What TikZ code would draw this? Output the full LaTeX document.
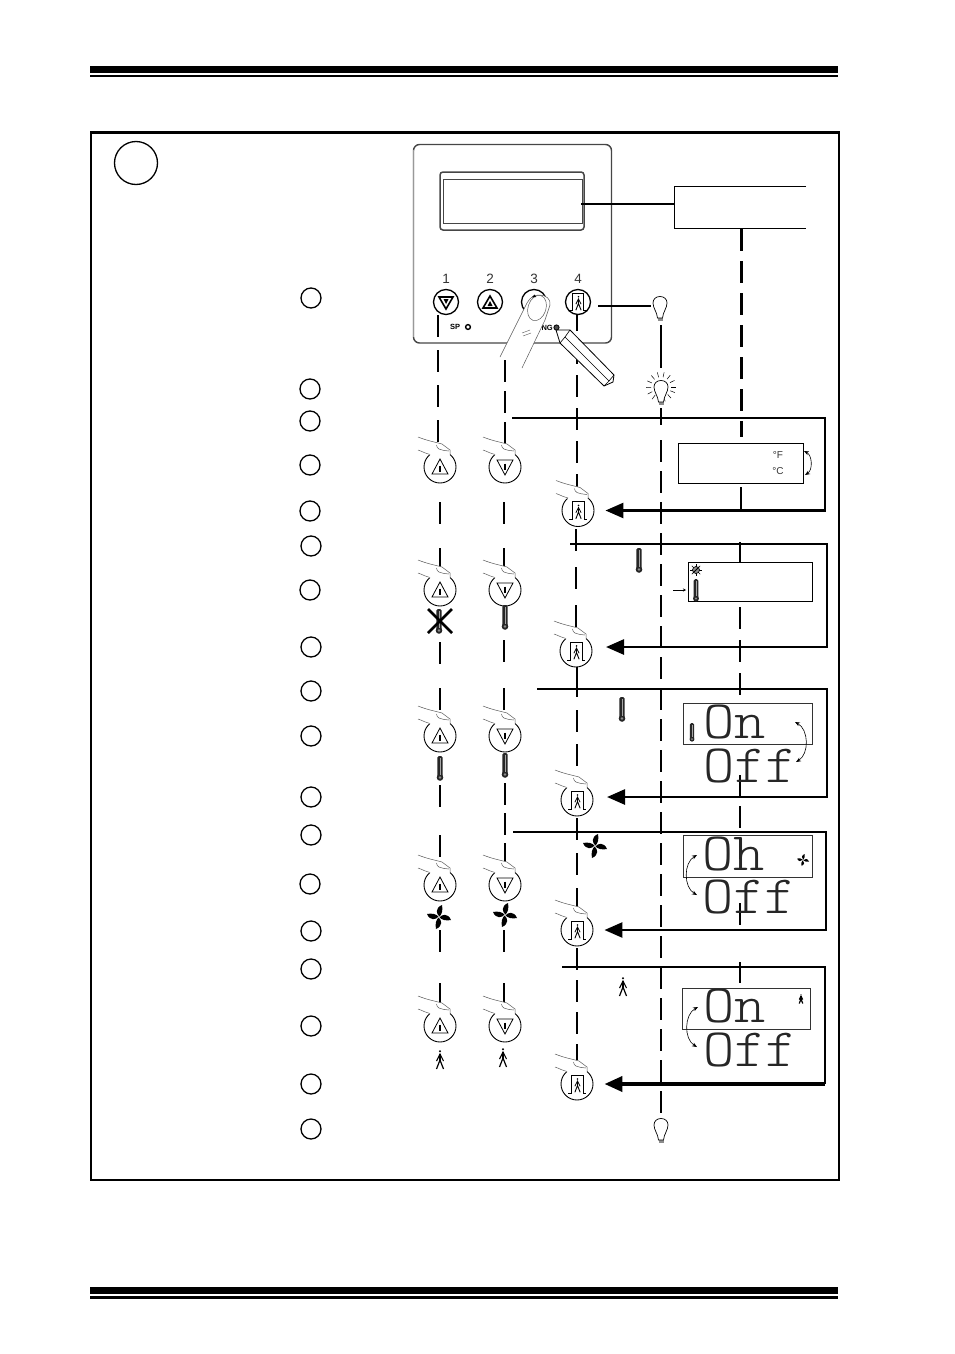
\documentclass[tikz,border=0pt]{standalone}
\usepackage{fontspec}
\setsansfont{Liberation Sans}
\newfontfamily\lcdfont[FakeStretch=1.1]{Latin Modern Mono Light}
\usetikzlibrary{arrows.meta,shapes.geometric}
\definecolor{panelgray}{RGB}{70,70,70}
\definecolor{fingergray}{RGB}{90,90,90}
\tikzset{
    stepmark/.style={circle,draw,line width=1.3pt,minimum size=20pt,inner sep=0pt},
    panelkey/.style={circle,draw,fill=white,line width=1.3pt,minimum size=25pt,inner sep=0pt},
    presskey/.style={circle,draw,fill=white,line width=0.9pt,minimum size=32pt,inner sep=0pt},
    dashline/.style={line width=2pt,dash pattern=on 22pt off #1},
    linkline/.style={line width=2pt},
    runline/.style={line width=2.6pt},
    flowline/.style={line width=2.6pt,-{Triangle[length=18pt,width=15pt]},shorten >=11pt},
    lcdbox/.style={draw,line width=0.8pt,fill=none},
    lcdtext/.style={font=\lcdfont\fontsize{54}{54}\selectfont,text=black!85,anchor=base west,inner sep=0pt},
    keynum/.style={font=\sffamily\fontsize{13.5}{14}\selectfont,text=black!80},
    marktext/.style={font=\sffamily\bfseries\fontsize{7.5}{8}\selectfont},
    unittext/.style={font=\sffamily\fontsize{10}{10}\selectfont,text=black!80},
    swaparrow/.style={line width=0.6pt,{Stealth[length=5pt,width=4pt]}-{Stealth[length=5pt,width=4pt]}},
    upsym/.pic={
        \draw[line width=0.8pt] (0,-8) -- (-8,7) -- (8,7) -- cycle;
        \draw[line width=1.6pt] (0,-1.5) -- (0,5);
    },
    downsym/.pic={
        \draw[line width=0.8pt] (-8,-7) -- (8,-7) -- (0,8) -- cycle;
        \draw[line width=1.6pt] (0,-3.5) -- (0,3);
    },
    panelup/.pic={
        \draw[line width=1.6pt] (0,-6) -- (-7,6) -- (7,6) -- cycle;
        \fill (0,-1) -- (-2.5,4) -- (2.5,4) -- cycle;
    },
    paneldown/.pic={
        \draw[line width=1.6pt] (-7,-5) -- (7,-5) -- (0,7) -- cycle;
        \fill (-2.5,-3) -- (2.5,-3) -- (0,2) -- cycle;
    },
    person/.pic={
        \fill (0,-8.8) circle (1.2);
        \draw[line width=1.2pt] (-3.5,9) -- (0,0) -- (3.5,9);
        \draw[line width=1.1pt] (-3.5,1) -- (0,-6) -- (3.5,1);
        \draw[line width=2.2pt] (0,-6) -- (0,1);
    },
    doorperson/.pic={
        \fill (0,-8.8) circle (1.2);
        \draw[line width=0.9pt] (-3.5,9) -- (0,0) -- (3.5,9);
        \draw[line width=0.8pt] (-3.5,1) -- (0,-6) -- (3.5,1);
        \draw[line width=1.5pt] (0,-6) -- (0,1);
    },
    doorsym/.pic={
        \draw[line width=0.8pt] (-9,9) -- (-5.5,9) -- (-5.5,-9) -- (6,-9) -- (6,9) -- (9,9);
        \pic[scale=0.75] at (0.5,1.5) {doorperson};
    },
    fingertop/.pic={
        \fill[white] (-22,-30) -- (2,-23) -- (10,-17) -- (10,-12) -- (-8,-11) -- (-22,-17) -- cycle;
        \draw[line width=0.5pt,fingergray] (-22,-30) .. controls (-12,-26) and (-5,-25) .. (2,-23) -- (10,-17) -- (10,-12);
        \draw[line width=0.5pt,fingergray] (-22,-17) .. controls (-16,-15) and (-14,-13) .. (-10,-12.5);
        \draw[line width=0.5pt,fingergray] (-3.5,-22) .. controls (-3,-18) and (-1,-17) .. (9,-16);
    },
    thermo/.pic={
        \fill[black!85,rounded corners=1.5pt] (-2.7,-12) rectangle (2.7,10);
        \fill[black!85] (0,9.5) circle (3.3);
        \draw[black!35,line width=0.7pt] (0,-10) -- (0,7);
        \fill[black!45] (0,9.5) circle (1.3);
    },
    fan/.pic={
        \foreach \ang in {0,90,180,270}
            \fill[rotate=\ang] (0.5,-0.5) .. controls (-3,-3) and (-4,-9) .. (3,-12) .. controls (4,-7) and (3,-3) .. (0.5,-0.5);
    },
    lamp/.pic={
        \fill[black!45] (-2.5,13) rectangle (2.5,18);
        \draw[line width=0.7pt,fill=white] (-2.5,15) .. controls (-3,9) and (-7,5) .. (-7,0) .. controls (-7,-4) and (-4,-6.5) .. (0,-6.5) .. controls (4,-6.5) and (7,-4) .. (7,0) .. controls (7,5) and (3,9) .. (2.5,15) -- cycle;
    },
    glowrays/.pic={
        \foreach \ang in {0,26,...,340}
            \draw[line width=0.5pt,rotate=\ang] (10,0) -- (15,0);
    },
    sunmark/.pic={
        \foreach \ang in {0,45,...,315}
            \draw[line width=0.6pt,rotate=\ang] (3,0) -- (6,0);
        \draw[line width=0.7pt,fill=black!45] (0,0) circle (3.5);
        \draw[line width=1pt] (-3,3) -- (3,-3);
    }
}
\begin{document}
\begin{tikzpicture}[x=1pt,y=-1pt]
    \useasboundingbox (0,0) rectangle (954,1354);

    % Page rules and frame
    \fill (90,66) rectangle (838,73);
    \fill (90,75) rectangle (838,77);
    \fill (90,1287) rectangle (838,1294);
    \fill (90,1296) rectangle (838,1299);
    \draw[line width=2.5pt] (91,132.5) rectangle (839,1180);

    % Step marks
    \node[stepmark,minimum size=43pt] (bigmark) at (136,163) {};
    \node[stepmark] (markA) at (311,298) {};
    \node[stepmark] (markB) at (310,389) {};
    \node[stepmark] (markC) at (310,421) {};
    \node[stepmark] (markD) at (310,465) {};
    \node[stepmark] (markE) at (310,511) {};
    \node[stepmark] (markF) at (311,546) {};
    \node[stepmark] (markG) at (310,590) {};
    \node[stepmark] (markH) at (311,647) {};
    \node[stepmark] (markI) at (311,691) {};
    \node[stepmark] (markJ) at (311,736) {};
    \node[stepmark] (markK) at (311,797) {};
    \node[stepmark] (markL) at (311,835) {};
    \node[stepmark] (markM) at (310,884) {};
    \node[stepmark] (markN) at (311,931) {};
    \node[stepmark] (markO) at (311,969) {};
    \node[stepmark] (markP) at (311,1026) {};
    \node[stepmark] (markQ) at (311,1084) {};
    \node[stepmark] (markR) at (311,1129) {};

    % Control panel
    \draw[panelgray,line width=1.4pt,rounded corners=6pt] (413.5,144.5) rectangle (611.5,343);
    \draw[black!40,line width=1.4pt] (413.5,150) -- (413.5,337);
    \draw[panelgray,line width=1.5pt,rounded corners=3pt] (440,172) rectangle (584,230);
    \draw[panelgray,line width=1pt] (443,179) rectangle (582,223);
    \node[keynum] (numA) at (446,279) {1};
    \node[keynum] (numB) at (490,279) {2};
    \node[keynum] (numC) at (534,279) {3};
    \node[keynum] (numD) at (578,279) {4};
    \node[marktext] (sptext) at (455,327) {SP};
    \draw[line width=1.4pt] (468,327) circle (2.4);
    \node[marktext,anchor=east,inner sep=0pt] (ngtext) at (553,327.5) {NG};

    % Display box
    \draw[line width=0.8pt] (806,186) -- (674,186) -- (674,228) -- (806,228);
    \coordinate (lcdA) at (581,204);
    \coordinate (lcdB) at (674,204);
    \draw[linkline] (lcdA) -- (lcdB);

    % First key column
    \coordinate (keyAa) at (438,315);
    \coordinate (keyAb) at (438,442);
    \draw[dashline=13pt] (keyAa) -- (keyAb);
    \coordinate (keyAc) at (440,502);
    \coordinate (keyAd) at (440,570);
    \draw[dashline=24pt] (keyAc) -- (keyAd);
    \coordinate (keyAe) at (440,642);
    \coordinate (keyAf) at (440,710);
    \draw[dashline=24pt] (keyAe) -- (keyAf);
    \coordinate (keyAg) at (440,785);
    \coordinate (keyAh) at (440,857);
    \draw[dashline=28pt] (keyAg) -- (keyAh);
    \coordinate (keyAi) at (440,930);
    \coordinate (keyAj) at (440,1005);
    \draw[dashline=31pt] (keyAi) -- (keyAj);

    % Second key column
    \coordinate (keyBa) at (505,360);
    \coordinate (keyBb) at (505,445);
    \draw[dashline=9pt] (keyBa) -- (keyBb);
    \coordinate (keyBc) at (504,502);
    \coordinate (keyBd) at (504,570);
    \draw[dashline=24pt] (keyBc) -- (keyBd);
    \coordinate (keyBe) at (504,640);
    \coordinate (keyBf) at (504,710);
    \draw[dashline=26pt] (keyBe) -- (keyBf);
    \coordinate (keyBg) at (505,783);
    \coordinate (keyBh) at (505,865);
    \draw[dashline=8pt,line width=2.6pt] (keyBg) -- (keyBh);
    \coordinate (keyBi) at (504,930);
    \coordinate (keyBj) at (504,1005);
    \draw[dashline=31pt] (keyBi) -- (keyBj);

    % Third key column
    \coordinate (keyCa) at (577,309);
    \coordinate (keyCb) at (577,490);
    \draw[dashline=11pt] (keyCa) -- (keyCb);
    \coordinate (keyCc) at (576,529);
    \coordinate (keyCd) at (576,630);
    \draw[dashline=16pt] (keyCc) -- (keyCd);
    \coordinate (keyCe) at (577,665);
    \coordinate (keyCf) at (577,697);
    \draw[linkline] (keyCe) -- (keyCf);
    \coordinate (keyCg) at (577,710);
    \coordinate (keyCh) at (577,770);
    \draw[dashline=12pt] (keyCg) -- (keyCh);
    \coordinate (keyCi) at (577,818);
    \coordinate (keyCj) at (577,910);
    \draw[dashline=13pt] (keyCi) -- (keyCj);
    \coordinate (keyCk) at (577,948);
    \coordinate (keyCl) at (577,1060);
    \draw[dashline=10pt] (keyCk) -- (keyCl);

    % Lamp column
    \coordinate (lampA) at (661,325);
    \coordinate (lampB) at (661,368);
    \draw[linkline] (lampA) -- (lampB);
    \coordinate (lampC) at (661,408);
    \coordinate (lampD) at (661,425);
    \draw[linkline] (lampC) -- (lampD);
    \coordinate (lampE) at (661,440);
    \coordinate (lampF) at (661,1114);
    \draw[dashline=9pt] (lampE) -- (lampF);

    % Display column
    \coordinate (lcdCa) at (741,229);
    \coordinate (lcdCb) at (741,437);
    \draw[dashline=10pt,line width=3pt] (lcdCa) -- (lcdCb);
    \coordinate (lcdCc) at (741,487);
    \coordinate (lcdCd) at (741,510);
    \draw[linkline] (lcdCc) -- (lcdCd);
    \coordinate (lcdCe) at (740,542);
    \coordinate (lcdCf) at (740,562);
    \draw[linkline] (lcdCe) -- (lcdCf);
    \coordinate (lcdCg) at (740,607);
    \coordinate (lcdCh) at (740,697);
    \draw[dashline=11pt] (lcdCg) -- (lcdCh);
    \coordinate (lcdCi) at (740,775);
    \coordinate (lcdCj) at (740,860);
    \draw[dashline=9pt] (lcdCi) -- (lcdCj);
    \coordinate (lcdCk) at (740,903);
    \coordinate (lcdCl) at (740,925);
    \draw[linkline] (lcdCk) -- (lcdCl);
    \coordinate (lcdCm) at (740,962);
    \coordinate (lcdCn) at (740,983);
    \draw[linkline] (lcdCm) -- (lcdCn);

    % Panel keys
    \node[panelkey] (panelA) at (446,302) {};
    \pic at (panelA) {paneldown};
    \node[panelkey] (panelB) at (490,302) {};
    \pic at (panelB) {panelup};
    \node[panelkey] (panelC) at (534,302) {};
    \node[panelkey] (panelD) at (578,302) {};
    \pic[scale=0.95] at (panelD) {doorsym};

    % Finger and pencil on the panel
    \draw[line width=0.5pt,fingergray,fill=white] (500,357) -- (527,303) .. controls (530,297) and (535,295) .. (539,295) .. controls (546,295) and (551,299) .. (550,305) -- (545,320) -- (522,368);
    \draw[line width=0.5pt,fingergray] (537,308) ellipse [x radius=9,y radius=13,rotate=-18];
    \fill (531.5,297.5) -- (534.5,294.5) -- (536,297) -- cycle;
    \draw[line width=0.4pt,fingergray] (522,333) -- (530,330);
    \draw[line width=0.4pt,fingergray] (523,336) -- (531,333);
    \draw[line width=0.8pt,fill=white] (556,330) -- (570,330) -- (614,375) -- (613,382) -- (604,386) -- (560,343) -- cycle;
    \draw[line width=0.6pt] (570,330) -- (565,337) -- (560,343);
    \draw[line width=0.6pt] (565,337) -- (609,381) -- (614,375);
    \draw[line width=0.6pt] (609,381) -- (604,386);
    \draw[line width=0.8pt,fill=black!70] (556.5,327.5) circle (2.6);
    \coordinate (keyCm) at (577,375);
    \coordinate (keyCn) at (577,393);
    \draw[linkline] (keyCm) -- (keyCn);
    \coordinate (keyBk) at (505,378);
    \draw[linkline] (keyBa) -- (keyBk);

    % Lamps
    \pic at (660,303) {lamp};
    \coordinate (panelDe) at (598,306);
    \coordinate (panelDf) at (651,306);
    \draw[linkline] (panelDe) -- (panelDf);
    \pic at (661,387) {glowrays};
    \pic at (661,387) {lamp};
    \pic at (661,1125) {lamp};

    % Temperature unit
    \node[presskey] (pressAa) at (440,467) {};
    \pic at (pressAa) {upsym};
    \pic at (pressAa) {fingertop};
    \node[presskey] (pressAb) at (505,467) {};
    \pic at (pressAb) {downsym};
    \pic at (pressAb) {fingertop};
    \node[presskey] (okA) at (578,510.5) {};
    \pic at (okA) {doorsym};
    \pic at (okA) {fingertop};
    \coordinate (runA) at (512,418);
    \coordinate (cornerA) at (825,510.5);
    \draw[flowline] (runA) -| (cornerA) -- (okA);
    \node[lcdbox,fill=white,minimum width=125pt,minimum height=40pt,inner sep=0pt] (unitbox) at (740.5,463) {};
    \node[unittext] (unitF) at (778,455) {°F};
    \node[unittext] (unitC) at (778,471) {°C};
    \coordinate (swapAa) at (804,451);
    \coordinate (swapAb) at (805,475);
    \draw[swaparrow] (swapAa) to[bend left=60] (swapAb);

    % Temperature sensor
    \node[presskey] (pressBa) at (440,590) {};
    \pic at (pressBa) {upsym};
    \pic at (pressBa) {fingertop};
    \node[presskey] (pressBb) at (505,590) {};
    \pic at (pressBb) {downsym};
    \pic at (pressBb) {fingertop};
    \pic at (439,621) {thermo};
    \draw[line width=2.5pt] (428,609) -- (452,633);
    \draw[line width=2.5pt] (452,609) -- (428,633);
    \pic at (505,617) {thermo};
    \node[presskey] (okB) at (576,651) {};
    \pic at (okB) {doorsym};
    \pic at (okB) {fingertop};
    \coordinate (runB) at (570,544);
    \coordinate (cornerB) at (827,647);
    \coordinate (arrowB) at (576,647);
    \draw[flowline,shorten >=30pt] (runB) -| (cornerB) -- (arrowB);
    \pic at (639,560) {thermo};
    \node[lcdbox,fill=white,minimum width=124pt,minimum height=39pt,inner sep=0pt] (sensorbox) at (750,581.5) {};
    \pic at (696,570) {sunmark};
    \pic[scale=0.9] at (696,590) {thermo};
    \coordinate (pointA) at (673,590);
    \coordinate (pointB) at (686,590);
    \draw[line width=0.6pt,-{Stealth[length=3pt,width=3pt]}] (pointA) -- (pointB);

    % Heat output
    \node[presskey] (pressCa) at (440,736) {};
    \pic at (pressCa) {upsym};
    \pic at (pressCa) {fingertop};
    \node[presskey] (pressCb) at (505,736) {};
    \pic at (pressCb) {downsym};
    \pic at (pressCb) {fingertop};
    \pic at (440,768) {thermo};
    \pic at (505,765) {thermo};
    \node[presskey] (okC) at (577,800) {};
    \pic at (okC) {doorsym};
    \pic at (okC) {fingertop};
    \coordinate (runC) at (537,689);
    \coordinate (cornerC) at (827,797);
    \coordinate (arrowC) at (577,797);
    \draw[flowline,shorten >=30pt] (runC) -| (cornerC) -- (arrowC);
    \pic at (622,709) {thermo};
    \draw[line width=0.8pt,draw=black!80] (683.5,703) rectangle (812,744);
    \pic[scale=0.75] at (692,732) {thermo};
    \node[lcdtext] (onA) at (703,738) {On};
    \node[lcdtext] (offA) at (703,782) {Off};
    \coordinate (swapBa) at (795,722);
    \coordinate (swapBb) at (796,762);
    \draw[swaparrow] (swapBa) to[bend left=60] (swapBb);

    % Fan output
    \node[presskey] (pressDa) at (440,885) {};
    \pic at (pressDa) {upsym};
    \pic at (pressDa) {fingertop};
    \node[presskey] (pressDb) at (505,885) {};
    \pic at (pressDb) {downsym};
    \pic at (pressDb) {fingertop};
    \pic at (439,917) {fan};
    \pic at (505,915) {fan};
    \node[presskey] (okD) at (577,930) {};
    \pic at (okD) {doorsym};
    \pic at (okD) {fingertop};
    \coordinate (runD) at (513,832);
    \coordinate (cornerD) at (826,930);
    \draw[flowline] (runD) -| (cornerD) -- (okD);
    \pic at (595,846) {fan};
    \draw[line width=0.8pt,draw=black!80] (683.5,835) rectangle (812,877);
    \pic[scale=0.5] at (803,860) {fan};
    \node[lcdtext] (onB) at (702,870) {Oh};
    \node[lcdtext] (offB) at (702,913) {Off};
    \coordinate (swapCa) at (697,855);
    \coordinate (swapCb) at (697,895);
    \draw[swaparrow] (swapCa) to[bend right=60] (swapCb);

    % Door output
    \node[presskey] (pressEa) at (440,1026) {};
    \pic at (pressEa) {upsym};
    \pic at (pressEa) {fingertop};
    \node[presskey] (pressEb) at (505,1026) {};
    \pic at (pressEb) {downsym};
    \pic at (pressEb) {fingertop};
    \pic at (440,1060) {person};
    \pic at (503,1058) {person};
    \node[presskey] (okE) at (577,1084) {};
    \pic at (okE) {doorsym};
    \pic at (okE) {fingertop};
    \coordinate (runE) at (562,967);
    \coordinate (cornerE) at (825,1084);
    \draw[runline] (runE) -| (cornerE);
    \draw[flowline,line width=3.8pt] (cornerE) -- (okE);
    \pic at (623,987) {person};
    \draw[line width=0.8pt,draw=black!80] (682.5,988) rectangle (810,1029);
    \pic[scale=0.5] at (801,999) {person};
    \node[lcdtext] (onC) at (703,1022) {On};
    \node[lcdtext] (offC) at (703,1066) {Off};
    \coordinate (swapDa) at (698,1007);
    \coordinate (swapDb) at (697,1047);
    \draw[swaparrow] (swapDa) to[bend right=60] (swapDb);
\end{tikzpicture}
\end{document}
